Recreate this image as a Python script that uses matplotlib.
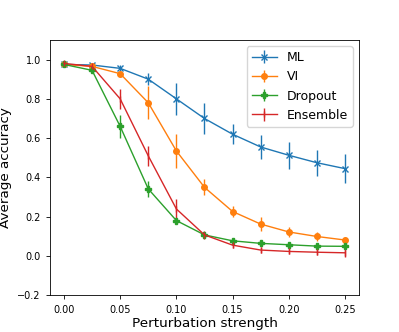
import matplotlib
matplotlib.use("Agg")
import matplotlib.pyplot as plt
import numpy as np

# perturbation levels
strength = [0.0, 0.025, 0.05, 0.075, 0.1, 0.125, 0.15, 0.175, 0.2, 0.225, 0.25]

ml_acc = [0.975, 0.972, 0.955, 0.90, 0.80, 0.70, 0.62, 0.555, 0.513, 0.475, 0.445]
ml_err = [0.005, 0.008, 0.015, 0.03, 0.08, 0.08, 0.05, 0.06, 0.07, 0.065, 0.075]

vi_acc = [0.975, 0.965, 0.928, 0.78, 0.535, 0.35, 0.227, 0.163, 0.123, 0.10, 0.082]
vi_err = [0.005, 0.008, 0.012, 0.085, 0.088, 0.04, 0.03, 0.035, 0.025, 0.025, 0.015]

do_acc = [0.975, 0.945, 0.66, 0.342, 0.181, 0.108, 0.078, 0.065, 0.058, 0.051, 0.05]
do_err = [0.005, 0.01, 0.057, 0.04, 0.01, 0.015, 0.01, 0.01, 0.01, 0.01, 0.01]

ens_acc = [0.98, 0.965, 0.80, 0.51, 0.24, 0.108, 0.056, 0.031, 0.024, 0.02, 0.017]
ens_err = [0.005, 0.01, 0.05, 0.05, 0.05, 0.02, 0.015, 0.015, 0.015, 0.015, 0.02]

plt.rcParams['axes.linewidth'] = 0.6
plt.rcParams['xtick.major.width'] = 0.6
plt.rcParams['ytick.major.width'] = 0.6
plt.rcParams['xtick.major.size'] = 3
plt.rcParams['ytick.major.size'] = 3
plt.rcParams['xtick.labelsize'] = 7
plt.rcParams['ytick.labelsize'] = 7
plt.rcParams['axes.labelsize'] = 9.7
plt.rcParams['legend.fontsize'] = 9

fig = plt.figure(figsize=(3.99, 3.32), dpi=100)
ax = fig.add_subplot(111)

lw = 1.0
ms = 4
ax.errorbar(strength, ml_acc, yerr=ml_err, marker='x', markersize=ms, lw=lw, elinewidth=lw, label='ML')
ax.errorbar(strength, vi_acc, yerr=vi_err, marker='o', markersize=ms, lw=lw, elinewidth=lw, label='VI')
ax.errorbar(strength, do_acc, yerr=do_err, marker='P', markersize=ms, lw=lw, elinewidth=lw, label='Dropout')
ax.errorbar(strength, ens_acc, yerr=ens_err, marker='|', markersize=ms, lw=lw, elinewidth=lw, label='Ensemble')

ax.set_ylim(-0.2, 1.1)
ax.set_yticks([-0.2, 0.0, 0.2, 0.4, 0.6, 0.8, 1.0])
ax.set_xticks([0.0, 0.05, 0.1, 0.15, 0.2, 0.25])
ax.set_xlabel('Perturbation strength', labelpad=2)
ax.set_ylabel('Average accuracy')
ax.legend(loc='upper right')

fig.savefig('out.png', dpi=100)
